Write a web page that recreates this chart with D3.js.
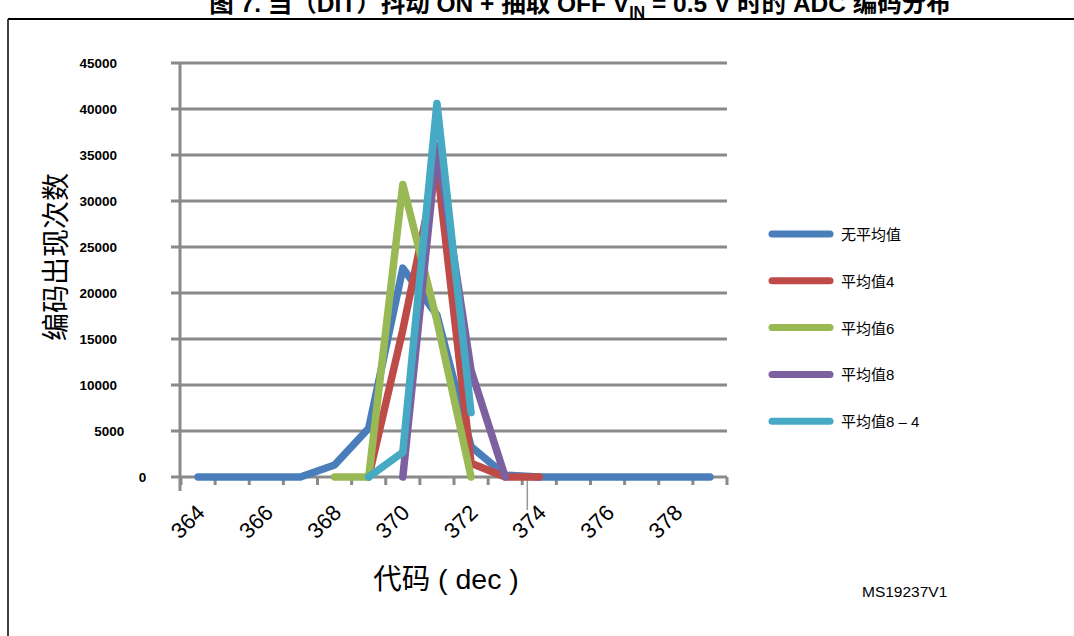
<!DOCTYPE html>
<html>
<head>
<meta charset="utf-8">
<script src="https://cdn.jsdelivr.net/npm/d3@7"></script>
<style>
  body { margin: 0; background: #fff; }
  svg { display: block; }
  text { font-family: "Liberation Sans", Arial, "Noto Sans CJK SC", sans-serif; }
</style>
</head>
<body>
<svg id="chart" width="1074" height="636"></svg>
<script>
// codes on the x axis (dec)
var codes = [364, 365, 366, 367, 368, 369, 370, 371, 372, 373, 374, 375, 376, 377, 378, 379];
var tickLabels = [364, 366, 368, 370, 372, 374, 376, 378];
var yTicks = [0, 5000, 10000, 15000, 20000, 25000, 30000, 35000, 40000, 45000];

// occurrences per code, null = no point
var noAvg  = [0, 0, 0, 0, 1300, 5300, 22700, 17600, 3300, 200, 0, 0, 0, 0, 0, 0];
var avg4   = [null, null, null, null, null, 0, 16000, 34000, 1500, 0, 0, null, null, null, null, null];
var avg6   = [null, null, null, null, 0, 0, 31800, 17000, 0, null, null, null, null, null, null, null];
var avg8   = [null, null, null, null, null, null, 0, 36000, 11600, 0, null, null, null, null, null, null];
var avg8_4 = [null, null, null, null, null, 0, 2700, 40600, 7000, null, null, null, null, null, null, null];

var seriesNames = ["无平均值", "平均值4", "平均值6", "平均值8", "平均值8 – 4"];
var seriesColors = ["#4a7ebb", "#be4b48", "#98b954", "#7d60a0", "#46aac5"];
var seriesData = [noAvg, avg4, avg6, avg8, avg8_4];

var svg = d3.select("#chart");

// frame
svg.append("line").attr("x1", 8).attr("x2", 1074).attr("y1", 19).attr("y2", 19)
   .attr("stroke", "#000").attr("stroke-width", 2);
svg.append("line").attr("x1", 8).attr("x2", 8).attr("y1", 19).attr("y2", 636)
   .attr("stroke", "#000").attr("stroke-width", 1.5);

// title (top is cut off, like in the original)
var title = svg.append("text").attr("x", 580).attr("y", 12)
   .attr("text-anchor", "middle").attr("font-weight", "bold").attr("font-size", 24.5);
title.append("tspan").text("图 7. 当（DIT）抖动 ON + 抽取 OFF V");
title.append("tspan").attr("font-size", 16).attr("dy", 6).text("IN");
title.append("tspan").attr("dy", -6).text(" = 0.5 V 时的 ADC 编码分布");

var x = d3.scaleBand().domain(codes).range([181, 727]);
var y = d3.scaleLinear().domain([0, 45000]).range([477, 63]);
var grey = "#8a8a8a";

// grid lines
svg.append("g").selectAll("line").data(yTicks).enter().append("line")
   .attr("x1", 171).attr("x2", 727)
   .attr("y1", function(d) { return y(d); })
   .attr("y2", function(d) { return y(d); })
   .attr("stroke", grey).attr("stroke-width", 3);

// y axis line
svg.append("line").attr("x1", 180).attr("x2", 180).attr("y1", y(45000) - 1).attr("y2", 491)
   .attr("stroke", grey).attr("stroke-width", 3);

// y tick labels
svg.append("g").selectAll("text").data(yTicks).enter().append("text")
   .attr("x", function(d) { return 117 + (5 - String(d).length) * 7.3; })
   .attr("y", function(d) { return y(d); })
   .attr("dy", "0.36em")
   .attr("text-anchor", "end")
   .attr("font-weight", "bold").attr("font-size", 13.5)
   .text(function(d) { return d; });

// x axis ticks at category boundaries
var bounds = codes.map(function(c) { return x(c); }).concat([x.range()[1]]);
svg.append("g").selectAll("line").data(bounds).enter().append("line")
   .attr("x1", function(d) { return d; }).attr("x2", function(d) { return d; })
   .attr("y1", 477).attr("y2", 485)
   .attr("stroke", grey).attr("stroke-width", 3);

// stray marker line under 374
var mx = x(374) + x.bandwidth() / 2 - 12;
svg.append("line").attr("x1", mx).attr("x2", mx).attr("y1", 478).attr("y2", 510)
   .attr("stroke", "#999").attr("stroke-width", 1.5);

// x tick labels
svg.append("g").selectAll("text").data(tickLabels).enter().append("text")
   .attr("transform", function(d) {
      return "translate(" + (x(d) + x.bandwidth() / 2 + 8) + ",514) rotate(-45)";
   })
   .attr("text-anchor", "end").attr("font-size", 22)
   .text(function(d) { return d; });

// series lines
var line = d3.line()
   .defined(function(d) { return d.v !== null; })
   .x(function(d) { return x(d.c) + x.bandwidth() / 2; })
   .y(function(d) { return y(d.v); });

seriesData.forEach(function(vals, i) {
   var pts = codes.map(function(c, j) { return { c: c, v: vals[j] }; });
   svg.append("path").datum(pts)
      .attr("d", line)
      .attr("fill", "none")
      .attr("stroke", seriesColors[i])
      .attr("stroke-width", 7.5)
      .attr("stroke-linecap", "round")
      .attr("stroke-linejoin", "round");
});

// legend
var legend = svg.append("g").selectAll("g").data(seriesNames).enter().append("g")
   .attr("transform", function(d, i) { return "translate(0," + (234 + i * 46.8) + ")"; });
legend.append("line").attr("x1", 772).attr("x2", 830).attr("y1", 0).attr("y2", 0)
   .attr("stroke", function(d, i) { return seriesColors[i]; })
   .attr("stroke-width", 7).attr("stroke-linecap", "round");
legend.append("text").attr("x", 841).attr("y", 6).attr("font-size", 15)
   .text(function(d) { return d; });

// axis titles
svg.append("text").attr("transform", "translate(66,257) rotate(-90)")
   .attr("text-anchor", "middle").attr("font-size", 28)
   .text("编码出现次数");
svg.append("text").attr("x", 446).attr("y", 589)
   .attr("text-anchor", "middle").attr("font-size", 28.5)
   .text("代码 ( dec )");

svg.append("text").attr("x", 862).attr("y", 597).attr("font-size", 15.5)
   .text("MS19237V1");
</script>
</body>
</html>
